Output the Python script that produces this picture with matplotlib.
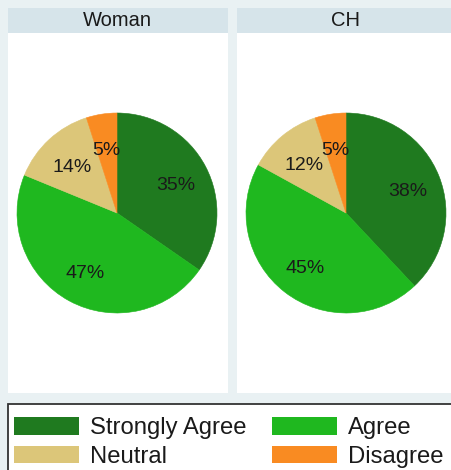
import numpy as np
import matplotlib
matplotlib.use("Agg")
import matplotlib.pyplot as plt
from matplotlib.patches import Rectangle, Patch

plt.rcParams['font.family'] = ['Liberation Sans', 'DejaVu Sans']

# data
categories = ["Strongly Agree", "Agree", "Neutral", "Disagree"]
colors = ["#1f7a1f", "#1fb81f", "#dcc679", "#f98b22"]
groups = ["Woman", "CH"]
woman_pct = [35, 47, 14, 5]
ch_pct = [38, 45, 12, 5]
values = [woman_pct, ch_pct]

W, H = 452, 470
bg = "#e9f1f3"
header = "#d6e4ea"
txt = "#1a1a1a"

fig = plt.figure(figsize=(W / 100, H / 100), dpi=100, facecolor=bg)

def box(x0, y0, x1, y1):
    # pixel box (top-left origin) -> figure rect
    return [x0 / W, 1 - y1 / H, (x1 - x0) / W, (y1 - y0) / H]

panels = [(8, 228, 117), (237, 480, 346)]
r = 100
cy = 213

for (x0, x1, cx), name, vals in zip(panels, groups, values):
    pa = fig.add_axes(box(x0, 8, x1, 393))
    pa.set_facecolor("white")
    pa.set_xticks([]); pa.set_yticks([])
    for s in pa.spines.values():
        s.set_visible(False)
    ha = fig.add_axes(box(x0, 8, x1, 33))
    ha.set_facecolor(header)
    ha.set_xticks([]); ha.set_yticks([])
    for s in ha.spines.values():
        s.set_visible(False)
    ha.text((cx - x0) / (x1 - x0), 0.5, name, ha="center", va="center",
            fontsize=14.5, color=txt, transform=ha.transAxes)

    ax = fig.add_axes(box(cx - r, cy - r, cx + r, cy + r))
    wedges, _ = ax.pie(vals, colors=colors, startangle=90, counterclock=False,
                       radius=1, wedgeprops=dict(linewidth=0.4))
    for w in wedges:
        w.set_edgecolor(w.get_facecolor())
    for w, v in zip(wedges, vals):
        ang = np.deg2rad((w.theta1 + w.theta2) / 2)
        ax.text(0.66 * np.cos(ang), 0.66 * np.sin(ang) - 0.03, f"{v}%", ha="center",
                va="center", fontsize=14, color=txt)
    ax.set_xlim(-1, 1); ax.set_ylim(-1, 1)
    ax.axis("off")

# legend box
fig.patches.append(Rectangle((8 / W, -0.05), 1.0, 1 - 404 / H + 0.05,
                             transform=fig.transFigure, facecolor="white",
                             edgecolor="#333333", linewidth=1.3, zorder=0))

order = [0, 2, 1, 3]
handles = [Patch(facecolor=colors[i], edgecolor="none") for i in order]
labels = [categories[i] for i in order]
fig.legend(handles, labels, ncol=2, loc="upper left",
           bbox_to_anchor=(14 / W, 1 - 417 / H), frameon=False, fontsize=17.2,
           handlelength=2.72, handleheight=0.78, handletextpad=0.45,
           columnspacing=1.08, labelspacing=0.26, borderpad=0, borderaxespad=0)
for t in fig.legends[0].get_texts():
    t.set_color(txt)

fig.savefig("out.png", dpi=100, facecolor=bg)
